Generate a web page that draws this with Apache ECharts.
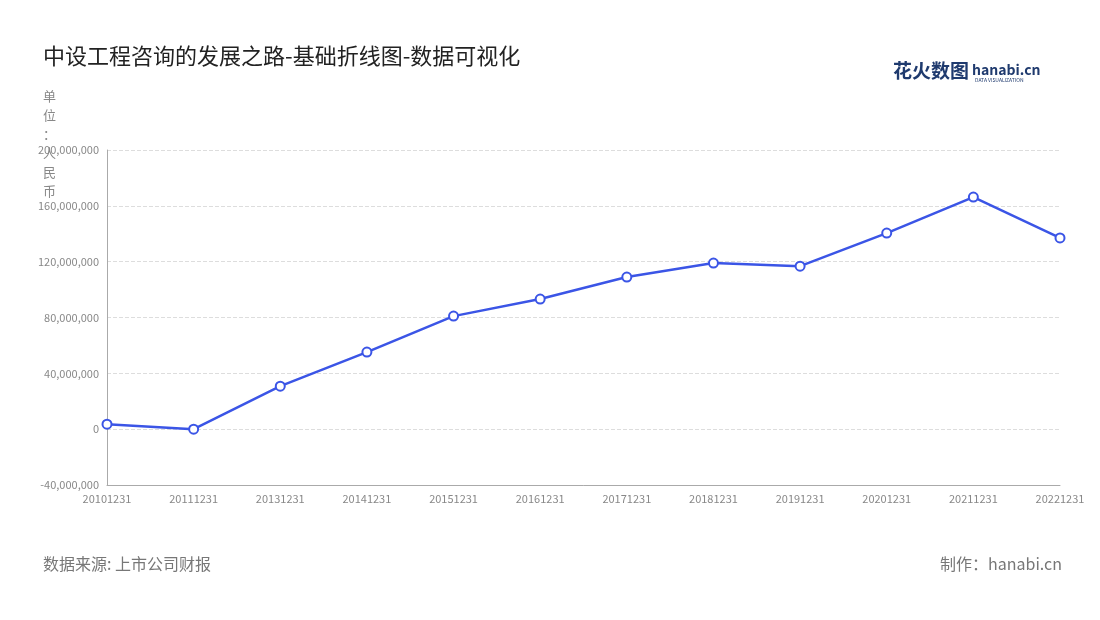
<!DOCTYPE html>
<html><head><meta charset="utf-8">
<script src="https://cdn.jsdelivr.net/npm/echarts@6/dist/echarts.min.js"></script>
<style>body{margin:0}#c{width:1100px;height:620px}</style></head>
<body><div id="c"></div>
<script>
const categories=['20101231','20111231','20131231','20141231','20151231','20161231','20171231','20181231','20191231','20201231','20211231','20221231'];
const values=[3600000,0,30800000,55200000,81000000,93200000,109000000,119000000,116800000,140500000,166300000,137000000];
const chart=echarts.init(document.getElementById('c'));
const font='"Noto Sans CJK SC","Noto Sans",sans-serif';
chart.setOption({
  textStyle:{fontFamily:font},
  title:{text:'中设工程咨询的发展之路-基础折线图-数据可视化',left:38,top:40,textStyle:{fontSize:22,fontWeight:'normal',color:'#222',fontFamily:font}},
  graphic:[
    {type:'text',left:43,top:87,style:{text:'单\n位\n：\n人\n民\n币',fill:'#888',fontSize:13,lineHeight:19,fontFamily:font}},
    {type:'text',left:43,top:556,style:{text:'数据来源: 上市公司财报',fill:'#777',fontSize:16,fontFamily:font}},
    {type:'text',right:38,top:556,style:{text:'制作：hanabi.cn',fill:'#777',fontSize:16,fontFamily:font}},
    {type:'text',left:893,top:61,style:{text:'花火数图',fill:'#1f3a6e',fontSize:19,fontWeight:'bold',fontFamily:font}},
    {type:'text',left:972,top:63,style:{text:'hanabi.cn',fill:'#1f3a6e',fontSize:14,fontWeight:'bold',fontFamily:font}},
    {type:'text',left:975,top:78,style:{text:'DATA VISUALIZATION',fill:'#1f3a6e',fontSize:5,fontFamily:font}}
  ],
  grid:{left:107,right:40,top:150,bottom:135},
  xAxis:{type:'category',data:categories,boundaryGap:false,
    axisLine:{onZero:false,lineStyle:{color:'#aaa'}},axisTick:{show:false},
    axisLabel:{color:'#888',fontSize:11,margin:8,interval:0}},
  yAxis:{type:'value',min:-40000000,max:200000000,interval:40000000,
    axisLine:{show:true,lineStyle:{color:'#aaa'}},
    axisLabel:{color:'#888',fontSize:11,formatter:v=>v.toLocaleString('en-US')},
    splitLine:{lineStyle:{type:'dashed',color:'#ddd'}}},
  series:[{type:'line',data:values,symbol:'circle',symbolSize:9,
    lineStyle:{color:'#3b55e6',width:2.5},
    itemStyle:{color:'#fff',borderColor:'#3b55e6',borderWidth:2}}]
});
</script></body></html>
